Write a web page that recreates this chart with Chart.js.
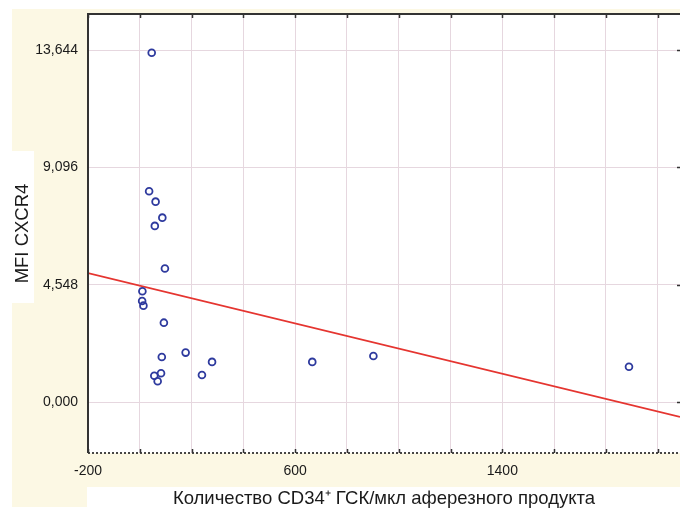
<!DOCTYPE html>
<html>
<head>
<meta charset="utf-8">
<script src="https://cdn.jsdelivr.net/npm/chart.js@4/dist/chart.umd.min.js"></script>
<style>
html,body{margin:0;padding:0;background:#fff;}
#wrap{width:680px;height:510px;position:relative;}
</style>
</head>
<body>
<div id="wrap"><canvas id="c" width="680" height="510"></canvas></div>
<script>
// Data
const cd34Count = [46, 36, 61, 87, 58, 97, 10, 9, 14, 93, 85, 177, 279, 56, 82, 69, 240, 666, 902, 1889];
const mfiCxcr4  = [13.54, 8.17, 7.77, 7.15, 6.83, 5.18, 4.30, 3.92, 3.74, 3.08, 1.75, 1.92, 1.56, 1.02, 1.12, 0.81, 1.05, 1.56, 1.79, 1.37];
// Regression line end points
const trendX = [-200, 2086];
const trendY = [5.00, -0.57];
// Axis ticks
const xGridTicks = [-200, 0, 200, 400, 600, 800, 1000, 1200, 1400, 1600, 1800, 2000];
const xTickLabels = [-200, 600, 1400];
const yTicks = [0, 4.548, 9.096, 13.644];
const xRange = [-200, 2086];
const yRange = [-1.97, 15.04];
const xTitle = 'Количество CD34⁺ ГСК/мкл аферезного продукта';
const yTitle = 'MFI CXCR4';

const scatterData = cd34Count.map((x, i) => ({x: x, y: mfiCxcr4[i]}));
const trendData = trendX.map((x, i) => ({x: x, y: trendY[i]}));

const CREAM = '#fcf8e4';
const FONT = 'Liberation Sans, Arial, sans-serif';

const bgPlugin = {
  id: 'bg',
  beforeDraw(chart) {
    const ctx = chart.ctx;
    ctx.save();
    ctx.fillStyle = '#ffffff';
    ctx.fillRect(0, 0, 680, 510);
    ctx.fillStyle = CREAM;
    ctx.fillRect(12, 9, 668, 478);
    ctx.fillRect(12, 487, 75, 20);
    ctx.fillStyle = '#ffffff';
    ctx.fillRect(0, 151, 34, 152);
    ctx.fillRect(87, 487, 593, 23);
    const a = chart.chartArea;
    ctx.fillRect(a.left, a.top, a.right - a.left, a.bottom - a.top);
    ctx.restore();
  },
  afterDraw(chart) {
    const ctx = chart.ctx;
    const a = chart.chartArea;
    const xs = chart.scales.x, ys = chart.scales.y;
    ctx.save();
    ctx.strokeStyle = '#333333';
    ctx.lineWidth = 2;
    ctx.beginPath();
    ctx.moveTo(a.left, a.bottom);
    ctx.lineTo(a.left, a.top);
    ctx.lineTo(a.right, a.top);
    ctx.stroke();
    // dotted bottom border
    ctx.lineWidth = 1.8;
    ctx.setLineDash([2, 2]);
    ctx.beginPath();
    ctx.moveTo(a.left, a.bottom);
    ctx.lineTo(a.right, a.bottom);
    ctx.stroke();
    ctx.setLineDash([]);
    // inner tick marks
    ctx.lineWidth = 1.5;
    ctx.beginPath();
    xGridTicks.forEach(v => {
      const px = Math.round(xs.getPixelForValue(v)) + 0.5;
      ctx.moveTo(px, a.top); ctx.lineTo(px, a.top + 4);
      ctx.moveTo(px, a.bottom); ctx.lineTo(px, a.bottom - 4);
    });
    yTicks.forEach(v => {
      const py = Math.round(ys.getPixelForValue(v)) + 0.5;
      ctx.moveTo(a.right, py); ctx.lineTo(a.right - 3, py);
    });
    ctx.stroke();
    ctx.restore();
  }
};

new Chart(document.getElementById('c'), {
  type: 'scatter',
  data: {
    datasets: [
      {
        label: 'MFI CXCR4',
        data: scatterData,
        pointStyle: 'circle',
        pointRadius: 3.4,
        pointHoverRadius: 3.4,
        pointBorderWidth: 1.8,
        pointBorderColor: '#2e3a9e',
        pointBackgroundColor: 'rgba(255,255,255,0)',
        showLine: false,
        order: 1
      },
      {
        label: 'trend',
        type: 'line',
        data: trendData,
        borderColor: '#e53530',
        borderWidth: 1.6,
        pointRadius: 0,
        fill: false,
        order: 2
      }
    ]
  },
  options: {
    responsive: false,
    devicePixelRatio: 1,
    animation: false,
    layout: {autoPadding: false, padding: {left: 0, right: 0, top: 14, bottom: 0}},
    plugins: {legend: {display: false}, tooltip: {enabled: false}},
    scales: {
      x: {
        type: 'linear',
        min: xRange[0],
        max: xRange[1],
        afterBuildTicks: s => { s.ticks = xGridTicks.map(v => ({value: v})); },
        afterFit: s => { s.height = 57; s.paddingLeft = 0; s.paddingRight = 0; s.paddingTop = 0; s.paddingBottom = 0; },
        grid: {color: '#e6d7df', lineWidth: 1, drawTicks: false},
        border: {display: false},
        ticks: {
          padding: 10,
          maxRotation: 0,
          autoSkip: false,
          color: '#1a1a1a',
          font: {family: FONT, size: 14},
          callback: v => xTickLabels.includes(v) ? String(v) : ''
        },
        title: {
          display: true,
          text: xTitle,
          color: '#1a1a1a',
          font: {family: FONT, size: 18.5},
          padding: {top: 0, bottom: 0}
        }
      },
      y: {
        type: 'linear',
        min: yRange[0],
        max: yRange[1],
        afterBuildTicks: s => { s.ticks = yTicks.map(v => ({value: v})); },
        afterFit: s => { s.width = 88; s.paddingTop = 0; s.paddingBottom = 0; s.paddingLeft = 0; s.paddingRight = 0; },
        grid: {color: '#e6d7df', lineWidth: 1, drawTicks: false},
        border: {display: false},
        ticks: {
          padding: 10,
          autoSkip: false,
          color: '#1a1a1a',
          font: {family: FONT, size: 14},
          callback: v => v.toFixed(3).replace('.', ',')
        },
        title: {
          display: true,
          text: yTitle,
          color: '#1a1a1a',
          font: {family: FONT, size: 18.5},
          padding: {top: 12, bottom: 0}
        }
      }
    }
  },
  plugins: [bgPlugin]
});
</script>
</body>
</html>
